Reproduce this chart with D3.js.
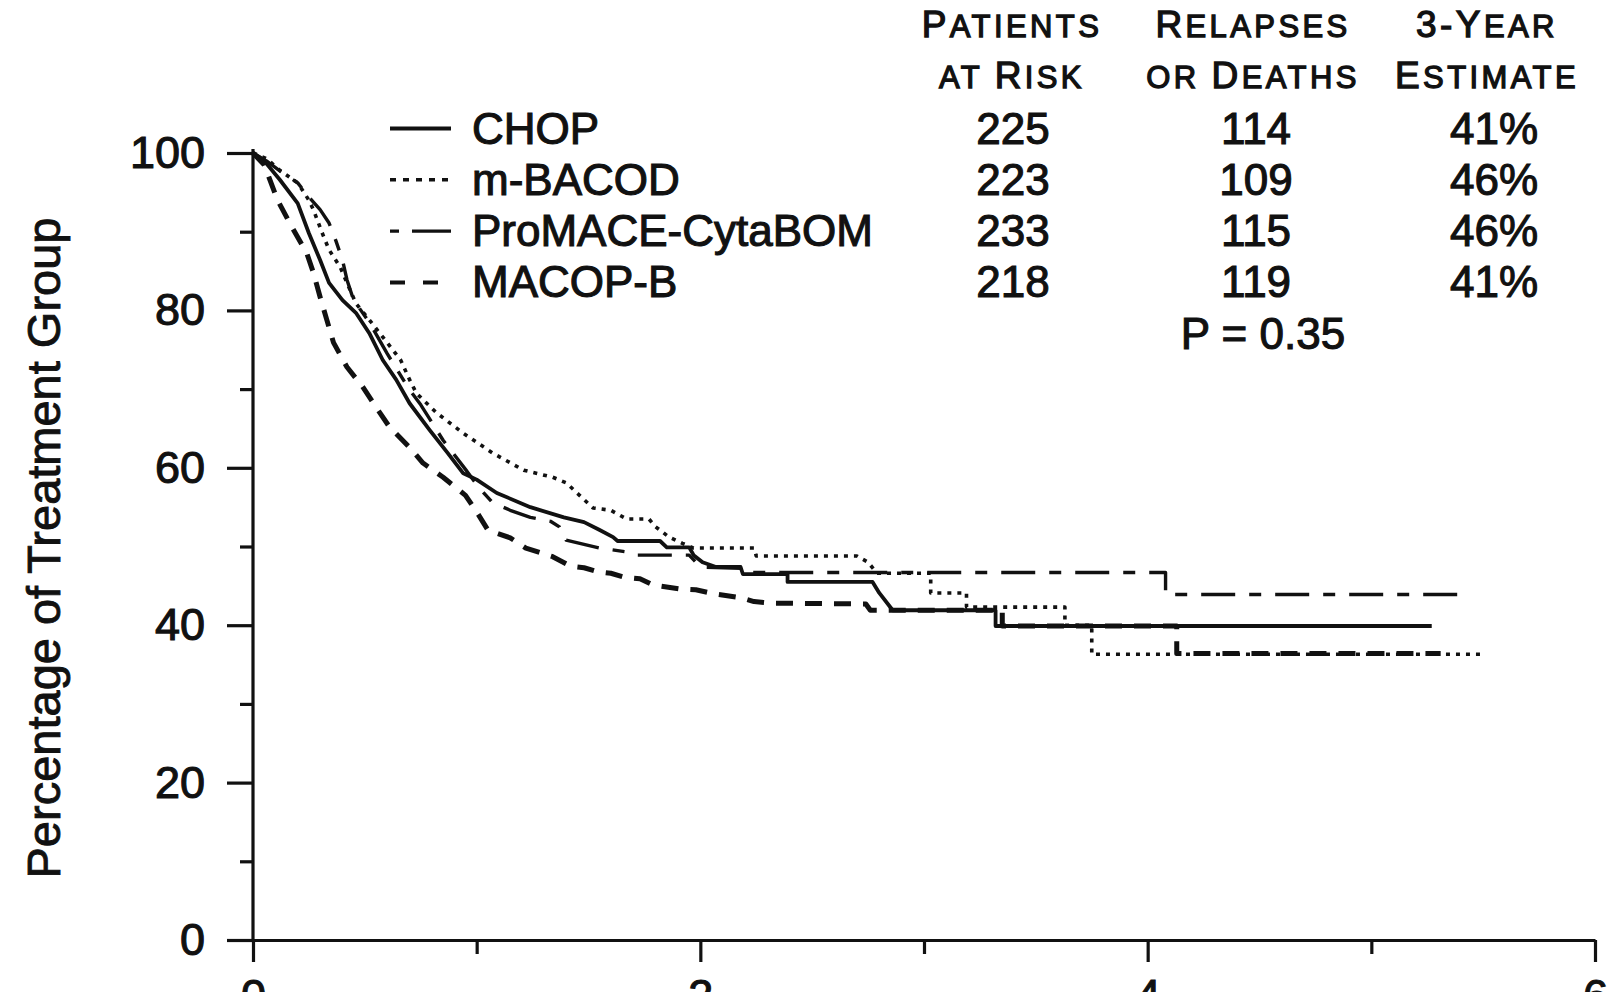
<!DOCTYPE html>
<html><head><meta charset="utf-8">
<script src="https://cdn.jsdelivr.net/npm/d3@7"></script>
<style>
html,body{margin:0;padding:0;background:#fff;}
svg text{font-family:"Liberation Sans",Arial,Helvetica,sans-serif;fill:#111;}
</style></head>
<body><svg id="c" width="1608" height="992"></svg>
<script>
// ---- data: [years, percentage] vertices of each curve ----
const seriesNames = ["CHOP", "m-BACOD", "ProMACE-CytaBOM", "MACOP-B"];
const patientsAtRisk = ["225", "223", "233", "218"];
const relapsesOrDeaths = ["114", "109", "115", "119"];
const threeYearEstimate = ["41%", "46%", "46%", "41%"];
const pValueLabel = "P = 0.35";
const xTicksMajor = [0, 2, 4, 6];
const xTicksMinor = [1, 3, 5];
const yTicksMajor = [0, 20, 40, 60, 80, 100];
const yTicksMinor = [10, 30, 50, 70, 90];

const chop = [[0,100],[0.05,99],[0.12,96.6],[0.2,93.6],[0.25,89.8],[0.30,86.4],[0.34,83.5],[0.40,81.3],[0.46,79.7],[0.52,77.1],[0.58,73.7],[0.64,71.2],[0.70,68.2],[0.79,64.8],[0.87,61.9],[0.94,59.3],[1.0,58.5],[1.09,56.8],[1.24,55.0],[1.39,53.7],[1.48,53.1],[1.55,52.1],[1.61,51.2],[1.63,50.7],[1.82,50.7],[1.85,49.9],[1.95,49.9],[1.97,48.9],[2.01,48.0],[2.07,47.4],[2.18,47.4],[2.19,46.5],[2.39,46.5],[2.39,45.5],[2.77,45.5],[2.80,44.1],[2.86,41.9],[3.32,41.9],[3.32,39.9],[5.27,39.9]];
const mbacod = [[0,100],[0.06,99.3],[0.12,97.8],[0.20,96.2],[0.25,94.0],[0.27,92.8],[0.31,89.8],[0.34,87.7],[0.39,85.5],[0.42,83.5],[0.46,80.9],[0.52,78.8],[0.60,75.9],[0.66,73.7],[0.70,71.2],[0.73,69.5],[0.82,67.0],[0.94,64.4],[1.07,61.9],[1.21,59.7],[1.34,58.8],[1.40,58.1],[1.46,56.5],[1.52,54.9],[1.60,54.6],[1.67,53.5],[1.77,53.5],[1.80,52.5],[1.86,51.2],[1.92,50.4],[1.97,49.8],[2.24,49.8],[2.25,48.8],[2.70,48.8],[2.75,48.0],[2.79,46.6],[3.03,46.6],[3.03,44.1],[3.19,44.1],[3.19,42.3],[3.63,42.3],[3.63,40.0],[3.75,40.0],[3.75,36.3],[5.50,36.3]];
const promace = [[0,100],[0.06,99],[0.13,97.5],[0.20,96.2],[0.25,94.4],[0.30,92.8],[0.34,91.1],[0.37,88.9],[0.40,86.4],[0.42,83.9],[0.45,81.3],[0.52,78.5],[0.60,74.5],[0.70,69.9],[0.75,68.0],[0.85,63.5],[0.95,59.8],[1.01,57.5],[1.07,55.6],[1.15,54.6],[1.24,53.7],[1.33,53.2],[1.37,52.5],[1.40,50.8],[1.55,49.8],[1.70,49.2],[1.72,48.9],[1.95,48.9],[2.0,47.4],[2.2,47.2],[2.22,46.7],[4.08,46.7],[4.08,43.9],[5.42,43.9]];
const macopb = [[0,100],[0.05,98.5],[0.11,94],[0.17,90.8],[0.24,87.3],[0.27,84.8],[0.30,81.7],[0.33,78.8],[0.36,75.9],[0.42,72.8],[0.49,70.3],[0.55,67.7],[0.61,65.2],[0.70,62.6],[0.76,60.6],[0.85,58.8],[0.95,56.5],[1.0,54.4],[1.05,52.1],[1.15,51.1],[1.22,49.8],[1.34,48.7],[1.42,47.5],[1.48,47.3],[1.54,46.8],[1.60,46.6],[1.66,46.1],[1.73,45.9],[1.79,45.1],[1.91,44.6],[1.98,44.5],[2.06,44.0],[2.18,43.5],[2.24,43.0],[2.31,42.8],[2.74,42.7],[2.76,41.9],[3.35,41.9],[3.35,39.9],[4.13,39.9],[4.13,36.4],[5.31,36.4]];
const seriesData = [chop, mbacod, promace, macopb];

// ---- styles (kept apart from the data) ----
const lineStyles = [
  {w:3.8, dash:null,           legendDash:null},
  {w:3.6, dash:"4,6",          legendDash:"6,7"},
  {w:3.4, dash:"34,14,12,14",  legendDash:"9,13,39,0"},
  {w:5.0, dash:"17,12",        legendDash:"15,18"}
];
const ink = "#111";
const textStroke = 1.1;

const svg = d3.select("#c");
const x = d3.scaleLinear().domain([0, 6]).range([253, 1595]);
const y = d3.scaleLinear().domain([0, 100]).range([940, 153]);

// axes
const yMajor = svg.append("g").attr("transform", `translate(${x(0)},0)`)
  .call(d3.axisLeft(y).tickValues(yTicksMajor).tickSize(26).tickSizeOuter(0).tickPadding(22).tickFormat(d3.format("d")));
const yMinor = svg.append("g").attr("transform", `translate(${x(0)},0)`)
  .call(d3.axisLeft(y).tickValues(yTicksMinor).tickSize(13).tickSizeOuter(0).tickFormat(""));
const xMajor = svg.append("g").attr("transform", `translate(0,${y(0)})`)
  .call(d3.axisBottom(x).tickValues(xTicksMajor).tickSize(22).tickSizeOuter(0).tickPadding(17).tickFormat(d3.format("d")));
const xMinor = svg.append("g").attr("transform", `translate(0,${y(0)})`)
  .call(d3.axisBottom(x).tickValues(xTicksMinor).tickSize(14).tickSizeOuter(0).tickFormat(""));
yMinor.select(".domain").remove();
xMinor.select(".domain").remove();
[yMajor, yMinor, xMajor, xMinor].forEach(g => {
  g.selectAll("path,line").attr("stroke", ink).attr("stroke-width", 3.2);
  g.selectAll("text").attr("font-size", 45).attr("fill", ink)
    .attr("stroke", ink).attr("stroke-width", textStroke)
    .style("font-family", '"Liberation Sans", Arial, sans-serif');
});
yMajor.select(".domain").attr("d", `M0,${y(100)-4}V${y(0)}`);

// y title
svg.append("text")
  .attr("transform", `translate(60,548) rotate(-90)`)
  .attr("text-anchor", "middle")
  .attr("font-size", 47)
  .attr("stroke", ink).attr("stroke-width", 0.9)
  .text("Percentage of Treatment Group");

// curves
const line = d3.line().x(d => x(d[0])).y(d => y(d[1])).curve(d3.curveLinear);
svg.append("g").selectAll("path").data(seriesData).join("path")
  .attr("d", line)
  .attr("fill", "none")
  .attr("stroke", ink)
  .attr("stroke-linejoin", "round")
  .attr("stroke-width", (d, i) => lineStyles[i].w)
  .attr("stroke-dasharray", (d, i) => lineStyles[i].dash);

// legend + table
const rowY = d3.scaleLinear().domain([0, 1]).range([143.5, 194.8]);
const leg = svg.append("g");
seriesNames.forEach((name, i) => {
  const by = rowY(i);
  leg.append("line").attr("x1", 390).attr("x2", 451).attr("y1", by - 15).attr("y2", by - 15)
    .attr("stroke", ink).attr("stroke-width", Math.min(lineStyles[i].w, 4))
    .attr("stroke-dasharray", lineStyles[i].legendDash);
  const body = (txt, xx, anchor) => leg.append("text").attr("x", xx).attr("y", by)
    .attr("font-size", 44).attr("text-anchor", anchor)
    .attr("stroke", ink).attr("stroke-width", textStroke).text(txt);
  body(name, 472, "start");
  body(patientsAtRisk[i], 1013, "middle");
  body(relapsesOrDeaths[i], 1256, "middle");
  body(threeYearEstimate[i], 1494, "middle");
});
leg.append("text").attr("x", 1263).attr("y", rowY(4)).attr("font-size", 44)
  .attr("text-anchor", "middle").attr("stroke", ink).attr("stroke-width", textStroke).text(pValueLabel);

// small-caps column headers
const headers = [
  {cx:1012, lines:["Patients", "at Risk"]},
  {cx:1253, lines:["Relapses", "or Deaths"]},
  {cx:1487, lines:["3-Year", "Estimate"]}
];
headers.forEach(h => {
  h.lines.forEach((ln, j) => {
    const t = svg.append("text").attr("x", h.cx).attr("y", 37 + j * 51)
      .attr("text-anchor", "middle").attr("letter-spacing", 3.4)
      .attr("stroke", ink).attr("stroke-width", 1.3);
    ln.split("").forEach(ch => {
      const isCap = ch === ch.toUpperCase() && /[A-Z0-9-]/.test(ch);
      t.append("tspan").attr("font-size", isCap ? 37 : 31).text(ch.toUpperCase());
    });
  });
});
</script></body></html>
